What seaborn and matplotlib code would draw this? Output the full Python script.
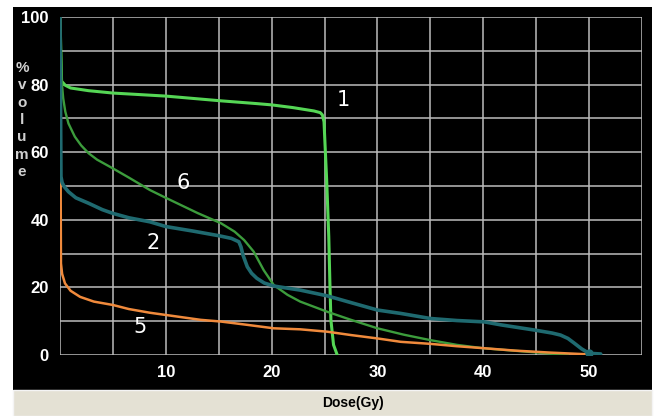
import pandas as pd
import matplotlib
matplotlib.use("Agg")
import matplotlib.pyplot as plt
import seaborn as sns
from matplotlib.patches import Rectangle

# DVH curves (dose in Gy, % volume)
dose_1 = [0, 0.15, 0.5, 1.0, 2.7, 5, 10, 15.2, 18.5, 20, 22, 24, 24.6, 24.8, 24.95, 25.05, 25.2, 25.4, 25.5, 25.6, 25.85, 26.2]
vol_1 = [100, 81, 79.8, 79, 78.2, 77.5, 76.6, 75.2, 74.4, 74, 73.2, 72.2, 71.7, 71, 69, 62, 51.8, 35, 22, 10.4, 3, 0]

dose_6 = [0, 0.16, 0.3, 0.5, 0.8, 1.4, 2.0, 2.7, 3.5, 5, 6.5, 8.5, 10, 13, 15.2, 16.5, 17.4, 18.3, 19.25, 20.2,
          21.5, 22.7, 25.25, 27.5, 30, 32.5, 35, 37.5, 40, 44, 48]
vol_6 = [100, 81, 76, 72, 68.5, 64.6, 62, 59.7, 57.8, 55.2, 52.5, 48.8, 46.5, 42, 39, 36.5, 34, 30.6, 25.1, 20.7,
         17.8, 15.8, 12.8, 10.4, 7.9, 6.0, 4.4, 3.0, 2.0, 1.0, 0]

dose_5 = [0, 0.09, 0.2, 0.47, 1.0, 1.9, 3.2, 5, 6.5, 8.5, 10.1, 13.3, 15.2, 17.5, 20.2, 22.7, 25.25, 27.5, 30,
          32.2, 35, 37.5, 40.1, 43, 46.4, 49.9]
vol_5 = [100, 27.1, 24, 21.2, 19, 17.2, 15.8, 14.8, 13.6, 12.5, 11.8, 10.4, 9.9, 9.0, 7.9, 7.6, 6.9, 5.9, 4.9,
         3.9, 3.3, 2.6, 2.0, 1.3, 0.7, 0.2]

dose_2 = [0, 0.09, 0.2, 0.4, 0.8, 1.5, 2.7, 4, 5, 6.5, 8.5, 10, 12.5, 15, 16.2, 16.9, 17.1, 17.3, 17.7, 18.1,
          18.6, 19.3, 20.2, 22.7, 25.25, 27.5, 30, 32.2, 35, 37.5, 40.1, 41.7, 44.8, 46.5, 47.3, 48, 48.6, 49.3,
          50, 51.1]
vol_2 = [100, 52.8, 51, 49.8, 48.3, 46.5, 44.9, 43, 41.9, 40.6, 39.4, 38.0, 36.7, 35.3, 34.5, 33.5, 32, 29.5,
         26.1, 24.2, 22.7, 21.3, 20.4, 19.2, 17.5, 15.5, 13.3, 12.3, 10.8, 10.2, 9.8, 8.9, 7.4, 6.5, 5.9, 4.9,
         3.5, 1.8, 0.5, 0.3]

# curve label text and where it sits (dose, volume)
label_names = ["1", "6", "2", "5"]
label_dose = [26.8, 11.65, 8.8, 7.6]
label_vol = [75.4, 50.9, 33.1, 8.3]

x_ticks = [10, 20, 30, 40, 50]
y_ticks = [0, 20, 40, 60, 80, 100]

sns.set_theme(style="dark")
plt.rcParams['font.family'] = ['Liberation Sans Narrow', 'Liberation Sans', 'DejaVu Sans']

fig = plt.figure(figsize=(6.62, 4.16), dpi=100)
fig.patch.set_facecolor("white")
# black panel and beige strip like the old planning software
fig.patches.append(Rectangle((13 / 662, 1 - 390 / 416), 639 / 662, 383 / 416,
                             transform=fig.transFigure, facecolor="black", edgecolor="none", zorder=-5))
fig.patches.append(Rectangle((13 / 662, 0), 639 / 662, 26 / 416,
                             transform=fig.transFigure, facecolor="#e4e1d4", edgecolor="#f4f4f4", lw=1, zorder=-5))

ax = fig.add_axes([60 / 662, 1 - 355 / 416, 582 / 662, 338 / 416])
ax.set_facecolor("black")

curves = [
    (dose_1, vol_1, "#55d655", 2.2),
    (dose_6, vol_6, "#3c9c3c", 1.7),
    (dose_5, vol_5, "#f08a3c", 1.8),
]
for d, v, c, lw in curves:
    sns.lineplot(x=d, y=v, ax=ax, color=c, lw=lw, sort=False, estimator=None)

sns.lineplot(x=dose_2, y=vol_2, ax=ax, color="#1f6a70", lw=2.6, sort=False, estimator=None,
             marker="o", markersize=6, markeredgewidth=0, markevery=[len(dose_2) - 2])

for name, d, v in zip(label_names, label_dose, label_vol):
    ax.text(d, v, name, color="white", fontsize=15, ha="center", va="center",
            family=['DejaVu Sans'])

ax.set_xlim(0, 55)
ax.set_ylim(0, 100)
ax.set_xticks(x_ticks)
ax.set_xticks(range(0, 56, 5), minor=True)
ax.set_yticks(y_ticks)
ax.set_yticks(range(0, 101, 10), minor=True)
ax.set_xticklabels([str(t) for t in x_ticks])
ax.set_yticklabels([str(t) for t in y_ticks])
ax.grid(which="both", color="#bcbcbc", lw=1.1)
ax.set_axisbelow(True)
ax.tick_params(which="both", length=0, colors="white", labelsize=12)
ax.tick_params(axis="x", pad=7)
ax.tick_params(axis="y", pad=8)
for lbl in ax.get_xticklabels() + ax.get_yticklabels():
    lbl.set_fontweight("bold")
for s in ax.spines.values():
    s.set_visible(False)
ax.set_xlabel("")
ax.set_ylabel("")

fig.text(22 / 662, 1 - 120 / 416, "\n".join("%volume"), color="#d0d0d0", fontsize=11,
         fontweight="bold", ha="center", va="center", linespacing=1.3)
fig.text(353 / 662, 1 - 403 / 416, "Dose(Gy)", color="black", fontsize=10,
         fontweight="bold", ha="center", va="center")

fig.savefig("out.png", dpi=100, facecolor=fig.get_facecolor())
